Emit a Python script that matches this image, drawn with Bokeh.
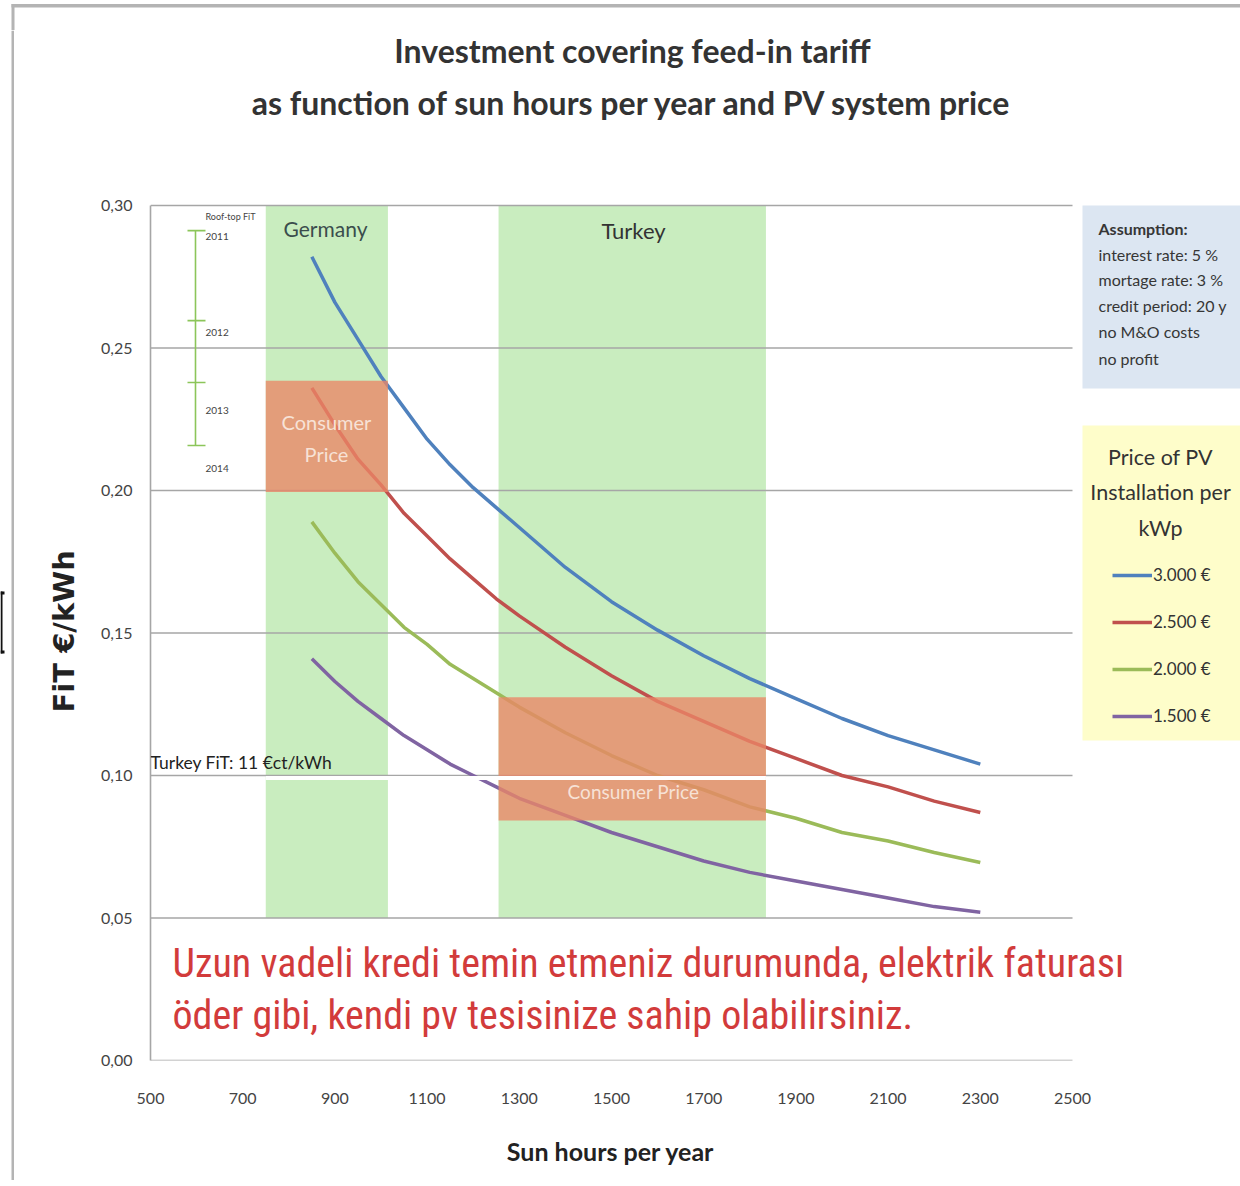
from bokeh.plotting import figure
from bokeh.layouts import column, row
from bokeh.models import Range1d, Label, BoxAnnotation, Legend, LegendItem, CustomJSTickFormatter, FixedTicker
from bokeh.core.properties import value
from bokeh.embed import file_html
from bokeh.resources import INLINE

# ---------------- data ----------------
sun_hours = [850, 900, 950, 1000, 1050, 1100, 1150, 1200, 1250, 1300, 1400, 1500, 1600, 1700,
             1800, 1900, 2000, 2100, 2200, 2300]
fit_3000 = [0.282, 0.266, 0.253, 0.240, 0.229, 0.218, 0.209, 0.201, 0.194, 0.187, 0.173, 0.161,
            0.151, 0.142, 0.134, 0.127, 0.120, 0.114, 0.109, 0.104]
fit_2500 = [0.236, 0.223, 0.211, 0.202, 0.192, 0.184, 0.176, 0.169, 0.162, 0.156, 0.145, 0.135,
            0.126, 0.119, 0.112, 0.106, 0.100, 0.096, 0.091, 0.087]
fit_2000 = [0.189, 0.178, 0.168, 0.160, 0.152, 0.146, 0.139, 0.134, 0.129, 0.124, 0.115, 0.107,
            0.100, 0.095, 0.089, 0.085, 0.080, 0.077, 0.073, 0.0695]
fit_1500 = [0.141, 0.133, 0.126, 0.120, 0.114, 0.109, 0.104, 0.100, 0.096, 0.092, 0.086, 0.080,
            0.075, 0.070, 0.066, 0.063, 0.060, 0.057, 0.054, 0.052]
series = [fit_3000, fit_2500, fit_2000, fit_1500]
series_labels = ["3.000 €", "2.500 €", "2.000 €", "1.500 €"]
series_colors = ["#4F81BD", "#C0504D", "#9BBB59", "#8064A2"]

region_names = ["Germany", "Turkey"]
region_start = [750, 1255]
region_end = [1015, 1835]
region_floor = 0.05
region_ceiling = 0.30
consumer_low = [0.1995, 0.0842]
consumer_high = [0.2385, 0.1275]

rooftop_years = ["2011", "2012", "2013", "2014"]
rooftop_fit = [0.2912, 0.2596, 0.2379, 0.2158]

y_ticks = [0.0, 0.05, 0.10, 0.15, 0.20, 0.25, 0.30]
x_ticks = [500, 700, 900, 1100, 1300, 1500, 1700, 1900, 2100, 2300, 2500]

assumptions = ["Assumption:", "interest rate: 5 %", "mortage rate: 3 %",
               "credit period: 20 y", "no  M&O costs", "no profit"]
legend_title = ["Price of PV", "Installation per", "kWp"]
title_lines = ["Investment covering feed-in tariff",
               "as function of sun hours per year and PV system price"]
message_lines = ["Uzun vadeli kredi temin etmeniz durumunda, elektrik faturası",
                 "öder gibi, kendi  pv tesisinize sahip olabilirsiniz."]
x_label = "Sun hours per year"
y_label = "FiT €/kWh"

# ---------------- layout helpers (page pixel -> data) ----------------
TW, TH = 1240, 1180          # total picture
TOP, LEFT = 30, 14           # border strips
FL, FT, FR, FB = 150, 205, 1072, 1060   # axis box in page pixels
X0, X1, Y0, Y1 = 500, 2500, 0.0, 0.30
KX = (X1 - X0) / (FR - FL)
KY = (Y1 - Y0) / (FB - FT)

def X(px):
    return X0 + (px - FL) * KX

def Y(py):
    return Y0 + (FB - py) * KY

NB = "\u00a0"
border_col = "#b4b4b4"

def blank(width, height, xr, yr):
    f = figure(width=width, height=height, x_range=xr, y_range=yr, output_backend="svg",
               toolbar_location=None, min_border=0, frame_align=False)
    f.title.visible = False
    f.axis.visible = False
    f.grid.visible = False
    f.outline_line_color = None
    f.background_fill_color = "white"
    f.border_fill_color = "white"
    return f

# top border strip (page y 0..TOP, y measured downwards)
top_strip = blank(TW, TOP, Range1d(0, TW), Range1d(TOP, 0))
top_strip.quad(left=[11, 11], right=[TW, 14], top=[3.5, 3.5], bottom=[7, TOP],
               fill_color=border_col, line_color=None)

# left border strip (page x 0..14)
left_strip = blank(LEFT, TH - TOP, Range1d(0, LEFT), Range1d(TH - TOP, 0))
left_strip.quad(left=[11], right=[14], top=[0], bottom=[TH], fill_color=border_col, line_color=None)
# small dark bracket at the left edge of the original picture
bt, bb = 591 - TOP, 653 - TOP
left_strip.quad(left=[0, 0, 0], right=[2, 4, 4], top=[bt, bt, bb - 3], bottom=[bb, bt + 3, bb],
                fill_color="#111111", line_color=None)

# main chart: frame spans from the axis box to the right and top edges
p = figure(width=TW - LEFT, height=TH - TOP,
           x_range=Range1d(X0, X(TW)), y_range=Range1d(Y0, Y(TOP)),
           output_backend="svg", toolbar_location=None, frame_align=False,
           min_border_left=FL - LEFT, min_border_right=0,
           min_border_top=0, min_border_bottom=TH - FB)
p.title.visible = False
p.outline_line_color = None
p.background_fill_color = "white"
p.border_fill_color = "white"
p.grid.visible = False

p.yaxis.ticker = FixedTicker(ticks=y_ticks)
p.yaxis.formatter = CustomJSTickFormatter(code="return tick.toFixed(2).replace('.', ',');")
p.xaxis.ticker = FixedTicker(ticks=x_ticks)
p.xaxis.bounds = (X0, X1)
p.yaxis.bounds = (Y0, Y1)
for ax in (p.xaxis, p.yaxis):
    ax.major_tick_line_color = None
    ax.minor_tick_line_color = None
    ax.major_tick_out = 0
    ax.major_tick_in = 0
    ax.major_label_text_font = "Lato"
    ax.major_label_text_font_size = "16px"
    ax.major_label_text_color = "#444444"
    ax.axis_label_text_font_style = "bold"
    ax.axis_label_text_color = "#222222"
p.xaxis.axis_line_color = None
p.yaxis.axis_line_color = "#a6a6a6"
p.yaxis.axis_line_width = 1.6
p.yaxis.major_label_standoff = 18
p.xaxis.major_label_standoff = 32
# the labels are centred on the whole frame, which runs past the axes: trailing
# no-break spaces move the visible words back to the centre of the axis box
p.yaxis.axis_label = y_label + NB * 17
p.yaxis.axis_label_text_font = "DejaVu Sans"
p.yaxis.axis_label_text_font_size = "29px"
p.yaxis.axis_label_standoff = 17
p.xaxis.axis_label = x_label + NB * 28
p.xaxis.axis_label_text_font = "Lato"
p.xaxis.axis_label_text_font_size = "25px"
p.xaxis.axis_label_standoff = 29

# side boxes
p.add_layout(BoxAnnotation(left=X(1082), right=X(TW + 20), top=Y(205), bottom=Y(388),
                           fill_color="#DCE6F2", fill_alpha=1, line_alpha=0, level="underlay"))
p.add_layout(BoxAnnotation(left=X(1082), right=X(TW + 20), top=Y(425), bottom=Y(740),
                           fill_color="#FEFDCA", fill_alpha=1, line_alpha=0, level="underlay"))

# regions
p.quad(left=region_start, right=region_end, bottom=[region_floor] * 2, top=[region_ceiling] * 2,
       fill_color="#C9EDBF", line_color=None, level="image")

# horizontal grid lines, limited to the x axis extent
p.segment(x0=[X0] * len(y_ticks), x1=[X1] * len(y_ticks), y0=y_ticks, y1=y_ticks,
          line_color="#a6a6a6", line_width=1.6, level="underlay")

# curves
line_renderers = []
for vals, col in zip(series, series_colors):
    r = p.line(sun_hours, vals, line_color=col, line_width=3.5, line_join="round")
    line_renderers.append(r)

# consumer price boxes
p.quad(left=region_start, right=region_end, bottom=consumer_low, top=consumer_high,
       fill_color="#EA8667", fill_alpha=0.78, line_color=None)

# white stripe along the Turkey FiT line
p.segment(x0=[region_start[0]], x1=[region_end[1]], y0=[Y(777.5)], y1=[Y(777.5)],
          line_color="white", line_width=4)

# roof-top FiT scale
p.segment(x0=[X(195)], x1=[X(195)], y0=[rooftop_fit[0]], y1=[rooftop_fit[-1]],
          line_color="#8CC55A", line_width=1.6)
p.segment(x0=[X(187)] * 4, x1=[X(205)] * 4, y0=rooftop_fit, y1=rooftop_fit,
          line_color="#8CC55A", line_width=1.6)
p.text(x=[X(205)] * 4, y=[Y(236), Y(332), Y(410), Y(468)], text=rooftop_years,
       text_font=value("Lato"), text_font_size="10px", text_color="#444444",
       text_baseline="middle", text_align="left")
p.add_layout(Label(x=X(205), y=Y(216), text="Roof-top FiT", text_font="Lato", text_font_size="9px",
                   text_color="#444444", text_baseline="middle"))

# region labels
p.add_layout(Label(x=X(325), y=Y(228), text="Germany", text_font="Lato", text_font_size="21px",
                   text_color="#3b4d4d", text_baseline="middle", text_align="center"))
p.add_layout(Label(x=X(633), y=Y(230), text="Turkey", text_font="Lato", text_font_size="22px",
                   text_color="#333333", text_baseline="middle", text_align="center"))
for t, py in (("Consumer", 421), ("Price", 453)):
    p.add_layout(Label(x=X(326), y=Y(py), text=t, text_font="Lato", text_font_size="20px",
                       text_color="#F7E2D6", text_baseline="middle", text_align="center"))
p.add_layout(Label(x=X(633), y=Y(791), text="Consumer Price", text_font="Lato", text_font_size="19px",
                   text_color="#F7E2D6", text_baseline="middle", text_align="center"))
p.add_layout(Label(x=X(150), y=Y(762), text="Turkey FiT: 11 €ct/kWh", text_font="Lato",
                   text_font_size="17.5px", text_color="#222222", text_baseline="middle"))

# message
for t, py in zip(message_lines, (963, 1015)):
    p.add_layout(Label(x=X(172), y=Y(py), text=t,
                       text_font="Liberation Sans Narrow, Roboto Condensed, Liberation Sans",
                       text_font_size="40px", text_color="#D23B3B", text_baseline="middle"))

# title
for t, py in zip(title_lines, (50, 102)):
    p.add_layout(Label(x=X(632), y=Y(py), text=t, text_font="Lato", text_font_style="bold",
                       text_font_size="32px", text_color="#333333", text_baseline="middle",
                       text_align="center"))

# assumptions
for i, (t, py) in enumerate(zip(assumptions, (228, 254, 279, 305, 331, 358))):
    p.add_layout(Label(x=X(1098), y=Y(py), text=t, text_font="Lato", text_font_size="16px",
                       text_font_style="bold" if i == 0 else "normal",
                       text_color="#363636", text_baseline="middle"))

# legend title lines
for t, py in zip(legend_title, (456, 491, 527)):
    p.add_layout(Label(x=X(1160), y=Y(py), text=t, text_font="Lato", text_font_size="21.5px",
                       text_color="#333333", text_baseline="middle", text_align="center"))

legend = Legend(items=[LegendItem(label=l, renderers=[r]) for l, r in zip(series_labels, line_renderers)],
                location=(1112 - FL, FB - 726), padding=0, margin=0, spacing=26,
                glyph_width=40, glyph_height=20, label_height=20, label_standoff=1,
                background_fill_alpha=0, border_line_alpha=0,
                label_text_font="Lato", label_text_font_size="17px", label_text_color="#333333")
p.add_layout(legend)

layout = column(top_strip, row(left_strip, p, spacing=0), spacing=0)
open("out.html", "w").write(file_html(layout, INLINE))
